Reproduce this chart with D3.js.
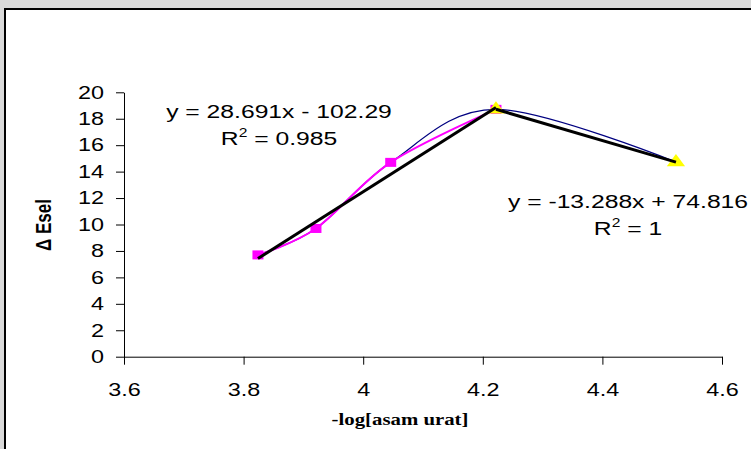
<!DOCTYPE html>
<html>
<head>
<meta charset="utf-8">
<script src="https://cdn.jsdelivr.net/npm/d3@7"></script>
<style>
  body { margin: 0; background: #d9d9d9; }
  svg { display: block; }
</style>
</head>
<body>
<div id="viz"></div>
<script>
(function() {

// -log[asam urat] vs delta Esel
var logConc = [3.824, 3.921, 4.046, 4.222, 4.523],
    esel = [7.7, 9.7, 14.7, 18.71, 14.72];

// magenta series = first four points, yellow = last two
var seriesA = [0, 1, 2, 3],
    seriesB = [3, 4];

// trendlines (as printed on the chart)
var fitA = { slope: 28.691, icpt: -102.29, label: "y = 28.691x - 102.29", r2: "0.985" },
    fitB = { slope: -13.288, icpt: 74.816, label: "y = -13.288x + 74.816", r2: "1" };

var xTicks = [3.6, 3.8, 4, 4.2, 4.4, 4.6],
    yTicks = [0, 2, 4, 6, 8, 10, 12, 14, 16, 18, 20];

var W = 751, H = 449,
    SX = 1.3; // the picture is stretched sideways

var svg = d3.select("#viz").append("svg")
    .attr("width", W)
    .attr("height", H);

// white plot sheet with black frame
svg.append("rect")
    .attr("x", 5).attr("y", 9)
    .attr("width", W + 10).attr("height", H + 10)
    .style("fill", "white")
    .style("stroke", "black")
    .style("stroke-width", 2);

var x = d3.scaleLinear().domain([3.6, 4.6]).range([124, 722]);
var y = d3.scaleLinear().domain([0, 20]).range([356.7, 92.3]);

function stretchText(sel) {
    sel.each(function() {
        var t = d3.select(this),
            tx = +t.attr("x") || 0;
        t.attr("x", 0).attr("transform", "translate(" + tx + ",0) scale(" + SX + ",1)");
    });
}

var gy = svg.append("g")
    .attr("transform", "translate(" + x(3.6) + ",0)")
    .call(d3.axisLeft(y).tickValues(yTicks).tickSize(8).tickSizeOuter(0).tickPadding(12));

var gx = svg.append("g")
    .attr("transform", "translate(0," + y(0) + ")")
    .call(d3.axisBottom(x).tickValues(xTicks).tickSize(8).tickSizeOuter(0).tickPadding(19)
        .tickFormat(function(d) { return +d.toFixed(1); }));

[gy, gx].forEach(function(g) {
    g.selectAll("path, line").style("stroke", "black").style("stroke-width", 1);
    g.selectAll("text")
        .style("font-family", "'Liberation Sans', Arial, sans-serif")
        .style("font-size", "18px")
        .style("fill", "black")
        .call(stretchText);
});

// axis titles
svg.append("text")
    .attr("transform", "translate(400,425) scale(" + SX + ",1)")
    .attr("text-anchor", "middle")
    .style("font-family", "'Liberation Serif', 'Times New Roman', serif")
    .style("font-weight", "bold")
    .style("font-size", "16px")
    .text("-log[asam urat]");

svg.append("text")
    .attr("transform", "translate(51,225) scale(" + SX + ",1) rotate(-90)")
    .attr("text-anchor", "middle")
    .style("font-family", "'Liberation Sans', Arial, sans-serif")
    .style("font-weight", "bold")
    .style("font-size", "17px")
    .text("\u0394 Esel");

var pts = logConc.map(function(d, i) { return [x(d), y(esel[i])]; });

var smooth = d3.line().curve(d3.curveCardinal.tension(0));

// navy smoothed line through all points
svg.append("path")
    .attr("d", smooth(pts))
    .style("fill", "none")
    .style("stroke", "#000080")
    .style("stroke-width", 1.3);

// magenta smoothed line
svg.append("path")
    .attr("d", smooth(seriesA.map(function(i) { return pts[i]; })))
    .style("fill", "none")
    .style("stroke", "#ff00ff")
    .style("stroke-width", 2);

svg.selectAll(".sq")
    .data(seriesA)
    .enter().append("rect")
    .attr("class", "sq")
    .attr("x", function(i) { return pts[i][0] - 5.5; })
    .attr("y", function(i) { return pts[i][1] - 4.5; })
    .attr("width", 11)
    .attr("height", 9)
    .style("fill", "#ff00ff");

svg.selectAll(".tri")
    .data(seriesB)
    .enter().append("path")
    .attr("class", "tri")
    .attr("transform", function(i) { return "translate(" + pts[i][0] + "," + pts[i][1] + ") scale(" + SX + ",1)"; })
    .attr("d", d3.symbol().type(d3.symbolTriangle).size(85))
    .style("fill", "#ffff00");

// black trendlines
function trend(fit, x0, x1) {
    svg.append("line")
        .attr("x1", x(x0)).attr("y1", y(fit.slope * x0 + fit.icpt))
        .attr("x2", x(x1)).attr("y2", y(fit.slope * x1 + fit.icpt))
        .style("stroke", "black")
        .style("stroke-width", 3);
}
trend(fitA, logConc[0], logConc[3]);
trend(fitB, logConc[3], logConc[4]);

// equation labels
function eqLabel(fit, cx, by) {
    var f = "'Liberation Sans', Arial, sans-serif";
    svg.append("text")
        .attr("transform", "translate(" + cx + "," + by + ") scale(" + SX + ",1)")
        .attr("text-anchor", "middle")
        .style("font-family", f).style("font-size", "19px")
        .text(fit.label);
    var t = svg.append("text")
        .attr("transform", "translate(" + cx + "," + (by + 27) + ") scale(" + SX + ",1)")
        .attr("text-anchor", "middle")
        .style("font-family", f).style("font-size", "19px");
    t.append("tspan").text("R");
    t.append("tspan").attr("dy", -8).style("font-size", "12px").text("2");
    t.append("tspan").attr("dy", 8).text(" = " + fit.r2);
}
eqLabel(fitA, 279, 118);
eqLabel(fitB, 628, 208);

})();
</script>
</body>
</html>
